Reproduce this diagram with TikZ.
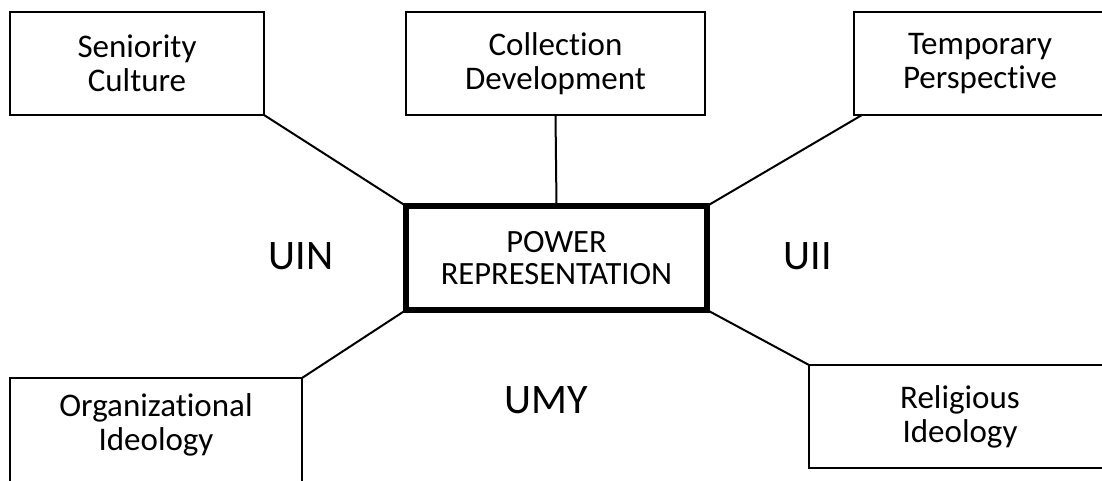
\documentclass[tikz,border=0pt]{standalone}
\usepackage{fontspec}
\setmainfont{Carlito}[Ligatures=NoCommon]
\begin{document}
\begin{tikzpicture}[x=1pt,y=-1pt,
  box/.style={draw=black,line width=2pt,outer sep=0pt,inner sep=0pt,minimum height=103pt,align=center,font=\fontsize{33}{34}\selectfont},
  centre/.style={draw=black,line width=6pt,outer sep=0pt,inner sep=0pt,minimum width=301pt,minimum height=104pt,align=center,font=\fontsize{32.5}{31.5}\selectfont},
  txt/.style={inner sep=0pt,align=center,font=\fontsize{33}{34}\selectfont},
  big/.style={inner sep=0pt,font=\fontsize{42}{44}\selectfont},
  link/.style={draw=black,line width=2pt}]
\useasboundingbox (0,0) rectangle (1102,481);
\fill[white] (0,0) rectangle (1102,481);
\node[box,minimum width=254pt] (sen) at (137,63.5) {Seniority\\Culture};
\node[box,minimum width=299pt] (col) at (555.5,63.5) {Collection\\Development};
\node[box,minimum width=252pt] (tem) at (980,63.5) {Temporary\\Perspective};
\node[centre] (pow) at (556.5,258) {POWER\\REPRESENTATION};
\node[box,minimum width=292pt,minimum height=108pt] (org) at (156,432) {};
\node[txt] (orgt) at (156,425) {Organizational\\Ideology};
\node[box,minimum width=302pt] (rel) at (960,416.5) {Religious\\Ideology};
\node[big] (uin) at (301,256) {UIN};
\node[big] (uii) at (808,256) {UII};
\node[big] (umy) at (546,400) {UMY};
\draw[link] (sen.south east) -- (pow.north west);
\draw[link] (col.south) -- (pow.north);
\draw[link] ([xshift=8pt]tem.south west) -- (pow.north east);
\draw[link] (org.north east) -- (pow.south west);
\draw[link] (rel.north west) -- (pow.south east);
\end{tikzpicture}
\end{document}
